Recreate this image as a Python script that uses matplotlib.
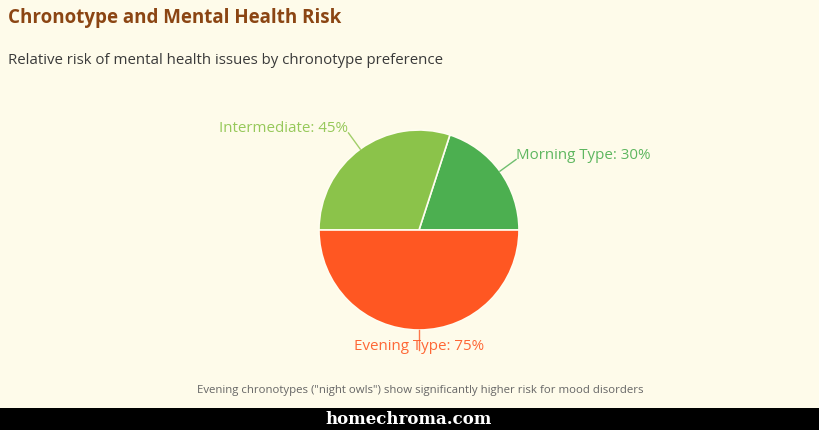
import numpy as np
import matplotlib.pyplot as plt

# data
chronotypes = ['Morning Type', 'Intermediate', 'Evening Type']
risk = [30, 45, 75]
colors = ['#4CAF50', '#8BC34A', '#FF5722']

title = 'Chronotype and Mental Health Risk'
subtitle = 'Relative risk of mental health issues by chronotype preference'
note = 'Evening chronotypes ("night owls") show significantly higher risk for mood disorders'

W, H = 819, 430
bg = '#FEFBEA'

fig = plt.figure(figsize=(W / 100, H / 100), dpi=100, facecolor=bg)
ax = fig.add_axes([0, 0, 1, 1])

cx, cy, R = 419, H - 230, 100
wedges, _ = ax.pie(risk, colors=colors, startangle=0, counterclock=True,
                   center=(cx, cy), radius=R, frame=True,
                   wedgeprops=dict(edgecolor='#FFFDF0', linewidth=1.2))
ax.set_xlim(0, W)
ax.set_ylim(0, H)
ax.set_aspect('equal')
ax.axis('off')

# labels with leader lines
for w, name, v, c in zip(wedges, chronotypes, risk, colors):
    ang = np.deg2rad((w.theta1 + w.theta2) / 2)
    x0, y0 = cx + R * np.cos(ang), cy + R * np.sin(ang)
    x1, y1 = cx + 1.2 * R * np.cos(ang), cy + 1.2 * R * np.sin(ang)
    if abs(np.cos(ang)) < 0.1:
        ha = 'center'
    else:
        ha = 'left' if np.cos(ang) > 0 else 'right'
    ax.plot([x0, x1], [y0, y1], color=c, lw=1, alpha=0.8)
    ax.text(x1, y1 + 4, f'{name}: {v}%', color=c, fontsize=10.9, ha=ha, va='center',
            family='Open Sans', alpha=0.9)

fig.text(8 / W, 1 - 18 / H, title, fontsize=13.5, fontweight='bold', color='#8B4513',
         family='Open Sans', va='center', ha='left')
fig.text(8 / W, 1 - 60 / H, subtitle, fontsize=10.8, color='#3a3a3a',
         family='Open Sans', va='center', ha='left')
fig.text(420 / W, 1 - 391 / H, note, fontsize=8.2, color='#666666',
         family='Open Sans', va='center', ha='center')

# bottom bar
fig.patches.append(plt.Rectangle((0, 0), 1, 22 / H, transform=fig.transFigure,
                                 facecolor='black', edgecolor='none'))
fig.text(409 / W, 11 / H, 'homechroma.com', fontsize=12, fontweight='bold', color='white',
         family='DejaVu Serif', va='center', ha='center')

fig.savefig('out.png', dpi=100, facecolor=bg)
